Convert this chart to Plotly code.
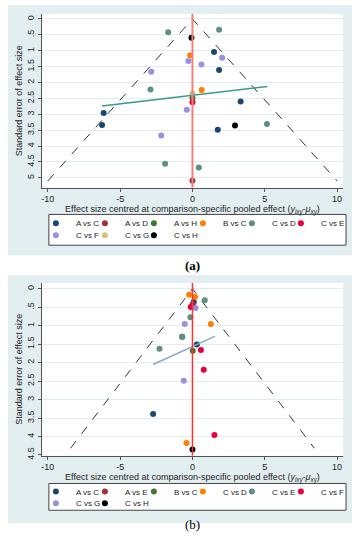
import plotly.graph_objects as go

# ---------------- data ----------------
series_a = ["A vs C", "A vs D", "A vs H", "B vs C", "C vs D", "C vs E", "C vs F", "C vs G", "C vs H"]
a_x = {
    "A vs C": [1.49, 1.84, 3.33, -6.14, -6.25, 1.75],
    "A vs D": [0.0],
    "A vs H": [0.0],
    "B vs C": [-0.16, 0.64],
    "C vs D": [-1.68, 1.84, -2.90, 5.15, -1.89, 0.44],
    "C vs E": [0.0],
    "C vs F": [-0.28, 2.05, 0.62, -2.85, -0.39, -2.16],
    "C vs G": [0.0],
    "C vs H": [-0.07, 2.94],
}
a_y = {
    "A vs C": [1.04, 1.61, 2.60, 2.96, 3.34, 3.49],
    "A vs D": [5.09],
    "A vs H": [2.49],
    "B vs C": [1.14, 2.24],
    "C vs D": [0.42, 0.34, 2.22, 3.31, 4.56, 4.68],
    "C vs E": [2.62],
    "C vs F": [1.32, 1.22, 1.43, 1.66, 2.86, 3.67],
    "C vs G": [2.35],
    "C vs H": [0.59, 3.35],
}
series_b = ["A vs C", "A vs E", "B vs C", "C vs D", "C vs E", "C vs F", "C vs G", "C vs H"]
b_x = {
    "A vs C": [0.09, -0.71, 0.30, -2.72],
    "A vs E": [0.02],
    "B vs C": [0.02],
    "C vs D": [-0.23, 0.18, 1.27, -0.41],
    "C vs E": [0.85, -0.14, -0.71, -2.28],
    "C vs F": [-0.12, 0.58, 0.78, 1.52],
    "C vs G": [0.21, -0.53, -0.60],
    "C vs H": [0.0],
}
b_y = {
    "A vs C": [0.36, 1.30, 1.51, 3.39],
    "A vs E": [0.42],
    "B vs C": [1.68],
    "C vs D": [0.16, 0.22, 0.95, 4.18],
    "C vs E": [0.31, 0.77, 1.30, 1.62],
    "C vs F": [0.49, 1.66, 2.19, 3.96],
    "C vs G": [0.52, 0.95, 2.49],
    "C vs H": [4.35],
}

funnel_a_x = [-10.0, 0.0, 10.0]
funnel_a_y = [5.1, 0.0, 5.1]
funnel_b_x = [-8.43, 0.0, 8.43]
funnel_b_y = [4.32, 0.0, 4.32]

trend_a_x = [-6.25, 5.17]
trend_a_y = [2.74, 2.125]
trend_b_x = [-2.72, 1.57]
trend_b_y = [2.05, 1.28]

x_ticks = [-10, -5, 0, 5, 10]
x_tick_labels = ["-10", "-5", "0", "5", "10"]
y_ticks_a = [0, 0.5, 1, 1.5, 2, 2.5, 3, 3.5, 4, 4.5, 5]
y_labels_a = ["0", ".5", "1", "1.5", "2", "2.5", "3", "3.5", "4", "4.5", "5"]
y_ticks_b = [0, 0.5, 1, 1.5, 2, 2.5, 3, 3.5, 4, 4.5]
y_labels_b = ["0", ".5", "1", "1.5", "2", "2.5", "3", "3.5", "4", "4.5"]

# ---------------- styles ----------------
colors_a = {
    "A vs C": "#1a476f", "A vs D": "#a0313b", "A vs H": "#3f7a2a", "B vs C": "#ff8000",
    "C vs D": "#5f8f80", "C vs E": "#e8003a", "C vs F": "#9a8fe0", "C vs G": "#d6c47e",
    "C vs H": "#000000",
}
colors_b = {
    "A vs C": "#1a476f", "A vs E": "#a0313b", "B vs C": "#3f7a2a", "C vs D": "#ff8000",
    "C vs E": "#5f8f80", "C vs F": "#e8003a", "C vs G": "#9a8fe0", "C vs H": "#000000",
}

W, H = 356, 550
def px(v): return v / W
def py(v): return 1 - v / H

FONT = "Liberation Sans, Arial, sans-serif"
fig = go.Figure()

# funnel / trend lines
fig.add_trace(go.Scatter(x=funnel_a_x, y=funnel_a_y, mode="lines", xaxis="x", yaxis="y",
                         line=dict(color="#333333", width=1, dash="dash"), showlegend=False, hoverinfo="skip"))
fig.add_trace(go.Scatter(x=funnel_b_x, y=funnel_b_y, mode="lines", xaxis="x2", yaxis="y2",
                         line=dict(color="#333333", width=1, dash="dash"), showlegend=False, hoverinfo="skip"))

ENTRY_W = 4
LAST_W = 26
row1_a = series_a[:6]
for s in series_a:
    last = s in (row1_a[-1], series_a[-1])
    fig.add_trace(go.Scatter(x=a_x[s], y=a_y[s], mode="markers", name=s, xaxis="x", yaxis="y",
                             marker=dict(color=colors_a[s], size=6),
                             legendwidth=LAST_W if last else ENTRY_W,
                             legend="legend" if s in row1_a else "legend2"))
row1_b = series_b[:6]
for s in series_b:
    last = s in (row1_b[-1], series_b[-1])
    fig.add_trace(go.Scatter(x=b_x[s], y=b_y[s], mode="markers", name=s, xaxis="x2", yaxis="y2",
                             marker=dict(color=colors_b[s], size=6),
                             legendwidth=LAST_W if last else ENTRY_W,
                             legend="legend3" if s in row1_b else "legend4"))

fig.add_trace(go.Scatter(x=trend_a_x, y=trend_a_y, mode="lines", xaxis="x", yaxis="y",
                         line=dict(color="#3a9a8a", width=1.5), showlegend=False, hoverinfo="skip"))
fig.add_trace(go.Scatter(x=trend_b_x, y=trend_b_y, mode="lines", xaxis="x2", yaxis="y2",
                         line=dict(color="#8aa8c8", width=1.5), showlegend=False, hoverinfo="skip"))

shapes = [
    # panel backgrounds
    dict(type="rect", xref="paper", yref="paper", x0=px(7), x1=px(352), y0=py(257), y1=py(5),
         fillcolor="#e3eef1", line=dict(width=0), layer="below"),
    dict(type="rect", xref="paper", yref="paper", x0=px(7), x1=px(352), y0=py(527), y1=py(277),
         fillcolor="#e3eef1", line=dict(width=0), layer="below"),
    # legend boxes
    dict(type="rect", xref="paper", yref="paper", x0=px(48), x1=px(346), y0=py(247), y1=py(216),
         fillcolor="white", line=dict(color="#444444", width=1), layer="below"),
    dict(type="rect", xref="paper", yref="paper", x0=px(48), x1=px(346), y0=py(514), y1=py(487),
         fillcolor="white", line=dict(color="#444444", width=1), layer="below"),
    # white plot regions
    dict(type="rect", xref="x domain", yref="y domain", x0=0, x1=1, y0=0, y1=1,
         fillcolor="white", line=dict(width=0), layer="below"),
    dict(type="rect", xref="x2 domain", yref="y2 domain", x0=0, x1=1, y0=0, y1=1,
         fillcolor="white", line=dict(width=0), layer="below"),
    # reference lines at 0
    dict(type="line", xref="x", yref="y domain", x0=0, x1=0, y0=0, y1=1,
         line=dict(color="#f47f7f", width=2)),
    dict(type="line", xref="x2", yref="y2 domain", x0=0, x1=0, y0=0, y1=1,
         line=dict(color="#ff3030", width=1.5)),
]

xtitle = "Effect size centred at comparison-specific pooled effect (<i>y</i><sub><i>ixy</i></sub>-<i>μ</i><sub><i>xy</i></sub>)"
axis_common = dict(showline=True, linecolor="#555555", linewidth=1, ticks="outside", ticklen=3,
                   tickcolor="#555555", tickfont=dict(size=9, color="#222222"), zeroline=False)

def xaxis(anchor):
    return dict(axis_common, range=[-10.41, 10.41], tickvals=x_ticks, ticktext=x_tick_labels,
                showgrid=False, anchor=anchor,
                title=dict(text=xtitle, font=dict(size=9, color="#222222"), standoff=1),
                domain=[px(41), px(343)])

def yaxis(anchor, rng, tv, tt, dom):
    return dict(axis_common, range=rng, tickvals=tv, ticktext=tt, tickangle=-90,
                showgrid=True, gridcolor="#e2edf0", gridwidth=1, anchor=anchor,
                title=dict(text="Standard error of effect size", font=dict(size=9, color="#222222"), standoff=2),
                domain=dom)

leg_common = dict(orientation="h", bgcolor="rgba(0,0,0,0)", borderwidth=0, font=dict(size=8, color="#222222"),
                  xanchor="left", yanchor="middle", itemwidth=30)

fig.update_layout(
    width=W, height=H, margin=dict(l=0, r=0, t=0, b=0),
    paper_bgcolor="white", plot_bgcolor="white",
    font=dict(family=FONT, size=9, color="#222222"),
    xaxis=xaxis("y"),
    yaxis=yaxis("x", [5.31, -0.16], y_ticks_a, y_labels_a, [py(189), py(14)]),
    xaxis2=xaxis("y2"),
    yaxis2=yaxis("x2", [4.52, -0.16], y_ticks_b, y_labels_b, [py(459), py(285)]),
    legend=dict(leg_common, x=px(35), y=py(225)),
    legend2=dict(leg_common, x=px(35), y=py(237)),
    legend3=dict(leg_common, x=px(35), y=py(495)),
    legend4=dict(leg_common, x=px(35), y=py(507)),
    shapes=shapes,
    annotations=[
        dict(text="<b>(a)</b>", x=px(192), y=py(267), xref="paper", yref="paper", showarrow=False,
             font=dict(family="Liberation Serif, Times New Roman, serif", size=13, color="black")),
        dict(text="(b)", x=px(192), y=py(538), xref="paper", yref="paper", showarrow=False,
             font=dict(family="Liberation Serif, Times New Roman, serif", size=13, color="black")),
    ],
    showlegend=True,
)

# place the figure at the page's top-left corner (remove the default body margin)
fig.write_html("out.html", config={"displayModeBar": False},
               post_script="document.body.style.margin='0';document.body.style.overflow='hidden';")
